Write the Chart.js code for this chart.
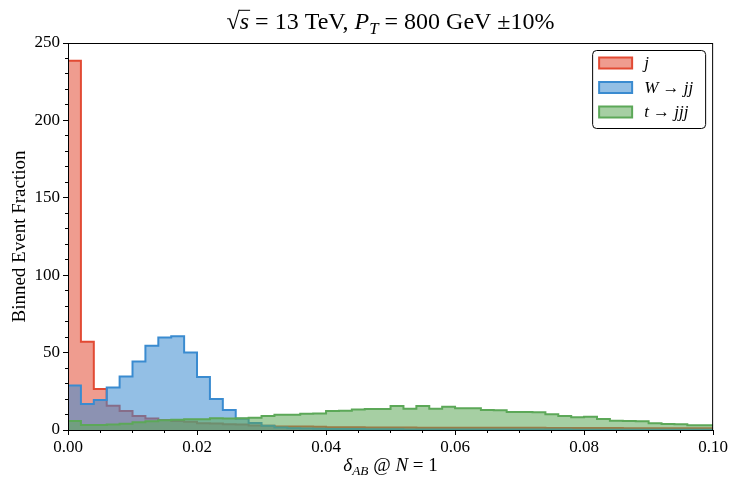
<!DOCTYPE html>
<html>
<head>
<meta charset="utf-8">
<script src="https://cdn.jsdelivr.net/npm/chart.js@4.4.0/dist/chart.umd.min.js"></script>
<style>
  html, body { margin: 0; padding: 0; background: #fff; }
</style>
</head>
<body>
<canvas id="histChart" width="730" height="479"></canvas>
<script>
// bin edges: 50 bins of width 0.002 between 0 and 0.1
const binEdges = Array.from({ length: 51 }, (_, i) => +(i * 0.002).toFixed(3));

// bin heights
const jetValues = [238.5, 57, 26.5, 15.7, 12.3, 9, 7.5, 6.5, 5.8, 5.3,
                   4.4, 4.2, 3.7, 3.6, 2.9, 2.8, 2.3, 2.2, 2.2, 2.1,
                   1.8, 1.7, 1.7, 1.6, 1.6, 1.6, 1.6, 1.5, 1.5, 1.5,
                   1.5, 1.5, 1.4, 1.4, 1.4, 1.4, 1.4, 1.3, 1.3, 1.3,
                   1.3, 1.3, 1.3, 1.2, 1.2, 1.2, 1.2, 1.2, 1.2, 1.1];
const wValues = [28.7, 16.8, 19.4, 27.5, 34.5, 44.2, 54.5, 59.7, 60.5, 50,
                 34.3, 20.1, 12.9, 7.2, 4.6, 2.8, 1.6, 1.1, 0.9, 0.8,
                 0.7, 0.6, 0.6, 0.5, 0.5, 0.5, 0.4, 0.4, 0.4, 0.4,
                 0.4, 0.3, 0.3, 0.3, 0.3, 0.3, 0.3, 0.3, 0.3, 0.2,
                 0.2, 0.2, 0.2, 0.2, 0.2, 0.2, 0.2, 0.2, 0.2, 0.2];
const topValues = [5.8, 3.3, 3.2, 3.5, 4, 5, 5.6, 6.3, 6.7, 7,
                   7, 7.6, 7.5, 7.6, 7.9, 9, 9.8, 9.9, 10.5, 10.6,
                   12.3, 12.4, 13.2, 13.6, 13.6, 15.5, 13.7, 15.5, 13.7, 15,
                   14.1, 14.1, 12.9, 12.8, 11.7, 11.6, 11.5, 10.1, 9, 8.3,
                   8.5, 7.1, 6, 5.8, 5.7, 4.4, 3.8, 3.7, 3.1, 3];

const xTickValues = [0, 0.02, 0.04, 0.06, 0.08, 0.1];
const yTickValues = [0, 50, 100, 150, 200, 250];

const FONT = '"Liberation Serif", "Times New Roman", serif';
Chart.defaults.font.family = FONT;
Chart.defaults.color = '#000';

// step outline: one point per left edge, last value repeated at the right edge
function toSteps(values) {
    const pts = values.map((v, i) => ({ x: binEdges[i], y: v }));
    pts.push({ x: binEdges[values.length], y: values[values.length - 1] });
    return pts;
}

const series = [
    { label: 'j', values: jetValues, line: 'rgb(226, 74, 51)', fill: 'rgba(226, 74, 51, 0.55)', order: 3,
      parts: [{ t: 'j', i: true }] },
    { label: 'W → jj', values: wValues, line: 'rgb(58, 139, 208)', fill: 'rgba(58, 139, 208, 0.55)', order: 2,
      parts: [{ t: 'W', i: true }, { t: ' → ' }, { t: 'jj', i: true }] },
    { label: 't → jjj', values: topValues, line: 'rgb(92, 168, 88)', fill: 'rgba(92, 168, 88, 0.55)', order: 1,
      parts: [{ t: 't', i: true }, { t: ' → ' }, { t: 'jjj', i: true }] }
];

// small rich text helper (italic, subscript, overline)
function partFont(p, size) {
    const s = p.sub ? size * 0.7 : size;
    return (p.i ? 'italic ' : '') + s + 'px ' + FONT;
}
function drawRich(ctx, parts, x, y, size, align) {
    let total = 0;
    parts.forEach(p => { ctx.font = partFont(p, size); p.w = ctx.measureText(p.t).width; total += p.w; });
    let cx = align === 'center' ? x - total / 2 : x;
    ctx.textAlign = 'left';
    parts.forEach(p => {
        ctx.font = partFont(p, size);
        ctx.fillText(p.t, cx, y + (p.sub ? size * 0.22 : 0));
        if (p.ol) {
            ctx.fillRect(cx - 1, y - size * 0.8, p.w + 2, 1);
        }
        cx += p.w;
    });
}

const decorations = {
    id: 'decorations',
    afterDatasetsDraw(chart) {
        const ctx = chart.ctx;
        const a = chart.chartArea;
        ctx.save();
        ctx.strokeStyle = '#000';
        ctx.lineWidth = 1;
        ctx.strokeRect(a.left + 0.5, a.top + 0.5, a.right - a.left - 1, a.bottom - a.top);
        ctx.restore();
    },
    afterDraw(chart) {
        const ctx = chart.ctx;
        const a = chart.chartArea;
        const mid = (a.left + a.right) / 2;
        ctx.save();
        ctx.fillStyle = '#000';
        ctx.textBaseline = 'alphabetic';
        // title
        drawRich(ctx, [
            { t: '√' }, { t: 's', i: true, ol: true }, { t: ' = 13 TeV, ' },
            { t: 'P', i: true }, { t: 'T', i: true, sub: true }, { t: ' = 800 GeV ±10%' }
        ], mid, 29, 24, 'center');
        // x axis label
        drawRich(ctx, [
            { t: 'δ', i: true }, { t: 'AB', i: true, sub: true }, { t: ' @ ' },
            { t: 'N', i: true }, { t: ' = 1' }
        ], mid, 471, 19, 'center');

        // legend box
        const bx = a.right - 121, by = a.top + 7, bw = 113, bh = 78;
        ctx.beginPath();
        ctx.roundRect(bx + 0.5, by + 0.5, bw, bh, 4);
        ctx.fillStyle = 'rgba(255,255,255,0.85)';
        ctx.fill();
        ctx.strokeStyle = '#000';
        ctx.lineWidth = 1;
        ctx.stroke();
        series.forEach((s, k) => {
            const cy = by + 13 + k * 24.5;
            ctx.fillStyle = s.fill;
            ctx.fillRect(bx + 7, cy - 5.5, 33, 11);
            ctx.strokeStyle = s.line;
            ctx.lineWidth = 2;
            ctx.strokeRect(bx + 7, cy - 5.5, 33, 11);
            ctx.fillStyle = '#000';
            drawRich(ctx, s.parts.map(p => Object.assign({}, p)), bx + 52, cy + 5, 17, 'left');
        });
        ctx.restore();
    }
};

const ctx = document.getElementById('histChart').getContext('2d');
new Chart(ctx, {
    type: 'line',
    data: {
        datasets: series.map(s => ({
            label: s.label,
            data: toSteps(s.values),
            borderColor: s.line,
            backgroundColor: s.fill,
            borderWidth: 2,
            pointRadius: 0,
            stepped: 'before',
            fill: 'origin',
            order: s.order
        }))
    },
    options: {
        responsive: false,
        animation: false,
        events: [],
        layout: { padding: { top: 43, right: 16, left: 0, bottom: 0 } },
        plugins: {
            legend: { display: false },
            title: { display: false },
            tooltip: { enabled: false }
        },
        scales: {
            x: {
                type: 'linear', position: 'bottom', min: 0, max: 0.1, weight: 1,
                afterBuildTicks: axis => { axis.ticks = xTickValues.map(v => ({ value: v })); },
                afterFit: axis => { axis.height = 49; },
                ticks: { font: { size: 17 }, padding: 2, maxRotation: 0, autoSkip: false,
                         callback: v => v.toFixed(2) },
                grid: { drawOnChartArea: false, tickLength: 5, tickColor: '#000', tickWidth: 1 },
                border: { display: false }
            },
            xMinor: {
                type: 'linear', position: 'bottom', min: 0, max: 0.1, weight: 0,
                afterFit: axis => { axis.height = 0; },
                ticks: { display: false, stepSize: 0.005 },
                grid: { drawOnChartArea: false, tickLength: 3, tickColor: '#000', tickWidth: 1 },
                border: { display: false }
            },
            y: {
                type: 'linear', position: 'left', min: 0, max: 250, weight: 1,
                afterBuildTicks: axis => { axis.ticks = yTickValues.map(v => ({ value: v })); },
                afterFit: axis => { axis.width = 68; },
                ticks: { font: { size: 17 }, padding: 3 },
                grid: { drawOnChartArea: false, tickLength: 5, tickColor: '#000', tickWidth: 1 },
                border: { display: false },
                title: { display: true, text: 'Binned Event Fraction', font: { size: 19 },
                         padding: { top: 9, bottom: 0 } }
            },
            yMinor: {
                type: 'linear', position: 'left', min: 0, max: 250, weight: 0,
                afterFit: axis => { axis.width = 0; },
                ticks: { display: false, stepSize: 10 },
                grid: { drawOnChartArea: false, tickLength: 3, tickColor: '#000', tickWidth: 1 },
                border: { display: false }
            }
        }
    },
    plugins: [decorations]
});
</script>
</body>
</html>
